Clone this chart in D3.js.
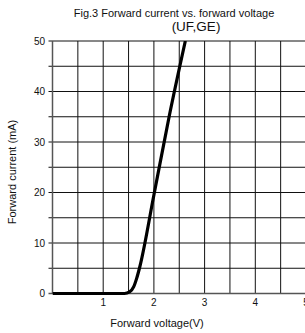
<!DOCTYPE html>
<html>
<head>
<meta charset="utf-8">
<script src="https://cdn.jsdelivr.net/npm/d3@7"></script>
<style>
  body { margin: 0; background: #fff; }
  text { font-family: "Liberation Sans", Arial, sans-serif; fill: #111; }
</style>
</head>
<body>
<svg width="305" height="333"></svg>
<script>
var svg = d3.select("svg"),
    width = +svg.attr("width"),
    height = +svg.attr("height");

// curve (V, mA)
var voltage = [0, 1.42, 1.52, 1.60, 1.66, 1.72, 2.00, 2.30, 2.62];
var current = [0, 0,    0.3,  1.3,  3.0,  5.2,  19.5, 35,   50];

var xTicks = [1, 2, 3, 4, 5];
var yTicks = [0, 10, 20, 30, 40, 50];

var x = d3.scaleLinear().domain([0, 5]).range([52.5, 306]);
var y = d3.scaleLinear().domain([0, 50]).range([293.5, 41]);

// grid
var g = svg.append("g");
g.selectAll(".vg")
    .data(d3.range(0.5, 5.01, 0.5))
    .enter().append("line")
    .attr("x1", function(d) { return x(d); })
    .attr("x2", function(d) { return x(d); })
    .attr("y1", y(0))
    .attr("y2", y(50))
    .attr("stroke", "#111")
    .attr("stroke-width", 1);

g.selectAll(".hg")
    .data(d3.range(5, 50.01, 5))
    .enter().append("line")
    .attr("x1", x(0) - 4)
    .attr("x2", width)
    .attr("y1", function(d) { return y(d); })
    .attr("y2", function(d) { return y(d); })
    .attr("stroke", "#111")
    .attr("stroke-width", 1);

// axes lines
g.append("line")
    .attr("x1", x(0)).attr("x2", x(0))
    .attr("y1", y(0)).attr("y2", y(50))
    .attr("stroke", "#555").attr("stroke-width", 1.5);
g.append("line")
    .attr("x1", x(0) - 4).attr("x2", width)
    .attr("y1", y(0)).attr("y2", y(0))
    .attr("stroke", "#555").attr("stroke-width", 1.5);

// tick labels
svg.selectAll(".yt")
    .data(yTicks)
    .enter().append("text")
    .attr("x", 45)
    .attr("y", function(d) { return y(d) + 3.5; })
    .attr("text-anchor", "end")
    .attr("font-size", 10)
    .text(function(d) { return d; });

svg.selectAll(".xt")
    .data(xTicks)
    .enter().append("text")
    .attr("x", function(d) { return x(d); })
    .attr("y", 306)
    .attr("text-anchor", "middle")
    .attr("font-size", 10)
    .text(function(d) { return d; });

// curve
var pts = voltage.map(function(v, i) { return [v, current[i]]; });
var line = d3.line()
    .x(function(d) { return x(d[0]); })
    .y(function(d) { return y(d[1]); })
    .curve(d3.curveMonotoneX);

svg.append("clipPath").attr("id", "clip")
  .append("rect")
    .attr("x", x(0)).attr("y", y(50))
    .attr("width", width - x(0)).attr("height", y(0) - y(50) + 3);

svg.append("path")
    .datum(pts)
    .attr("clip-path", "url(#clip)")
    .attr("d", line)
    .attr("fill", "none")
    .attr("stroke", "#000")
    .attr("stroke-width", 3.2);

// titles
svg.append("text")
    .attr("x", 174).attr("y", 17)
    .attr("text-anchor", "middle")
    .attr("font-size", 11)
    .text("Fig.3 Forward current vs. forward voltage");
svg.append("text")
    .attr("x", 196).attr("y", 31)
    .attr("text-anchor", "middle")
    .attr("font-size", 13.5)
    .text("(UF,GE)");

svg.append("text")
    .attr("x", 157).attr("y", 327)
    .attr("text-anchor", "middle")
    .attr("font-size", 11)
    .text("Forward voltage(V)");

svg.append("text")
    .attr("transform", "translate(16,172) rotate(-90)")
    .attr("text-anchor", "middle")
    .attr("font-size", 11)
    .text("Forward current (mA)");
</script>
</body>
</html>
